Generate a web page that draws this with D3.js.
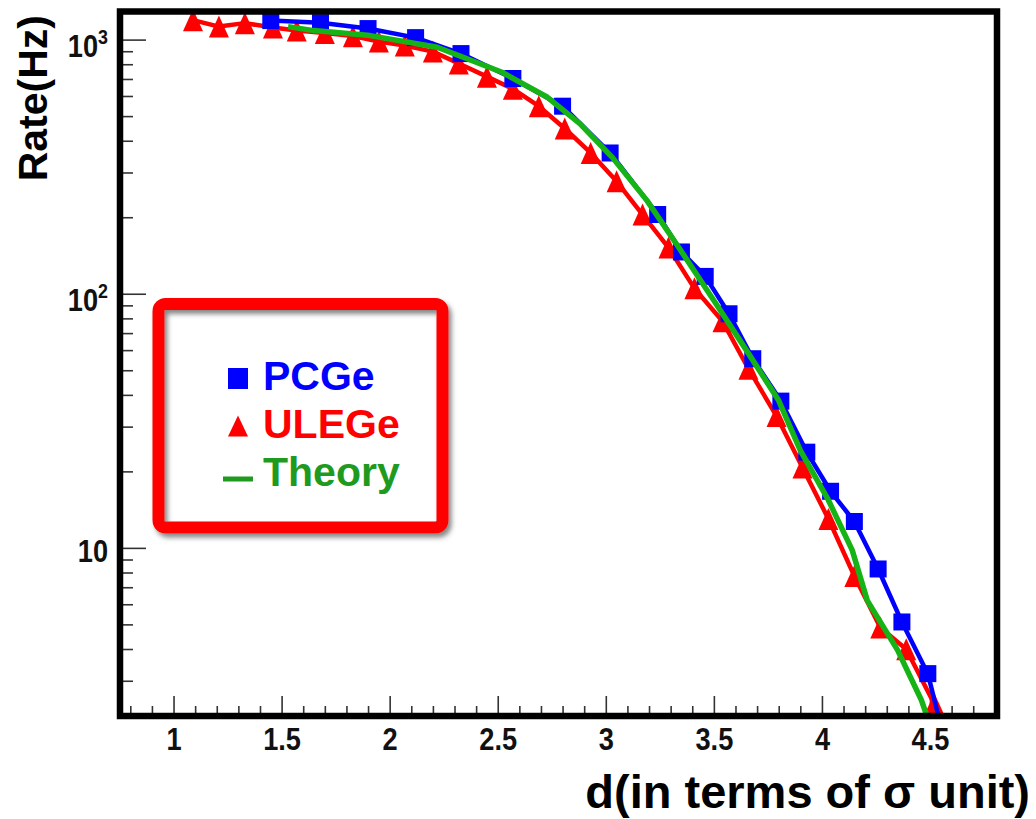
<!DOCTYPE html>
<html lang="en">
<head>
<meta charset="UTF-8">
<title>Rate vs d</title>
<script src="https://cdn.jsdelivr.net/npm/d3@7"></script>
<style>
  body { margin: 0; background: #fff; }
  text { font-family: "Liberation Sans", Arial, sans-serif; font-weight: bold; }
</style>
</head>
<body>
<svg id="chart" width="1036" height="819"></svg>
<script>
    /* global d3 */

    // PCGe - blue squares
    var pcgeD    = [1.45, 1.68, 1.90, 2.12, 2.33, 2.57, 2.80, 3.02, 3.24, 3.35, 3.46, 3.57, 3.68, 3.81, 3.93, 4.04, 4.15, 4.26, 4.37, 4.49, 4.60];
    var pcgeRate = [1188, 1166, 1105, 1018, 881, 703, 547, 358, 205, 146, 117, 83.4, 55.5, 37.8, 23.8, 16.7, 12.7, 8.26, 5.11, 3.20, 1.35];

    // ULEGe - red triangles
    var ulegeD    = [1.09, 1.21, 1.33, 1.46, 1.57, 1.70, 1.83, 1.95, 2.07, 2.20, 2.32, 2.45, 2.57, 2.69, 2.81, 2.93, 3.05, 3.17, 3.29, 3.41, 3.54, 3.66, 3.79, 3.91, 4.03, 4.15, 4.27, 4.39, 4.52, 4.64];
    var ulegeRate = [1193, 1125, 1161, 1115, 1085, 1061, 1032, 982, 947, 897, 805, 715, 640, 547, 447, 358, 277, 205, 152, 105, 78, 50.7, 33.0, 20.7, 13.0, 7.75, 4.86, 3.99, 2.43, 1.4];

    // theory curve - green
    var theoryD    = [1.53, 1.65, 1.91, 2.22, 2.52, 2.73, 2.88, 3.03, 3.19, 3.34, 3.50, 3.65, 3.80, 3.90, 4.03, 4.14, 4.21, 4.35, 4.46, 4.53];
    var theoryRate = [1125, 1085, 1037, 933, 744, 593, 467, 344, 233, 151, 94, 60, 38, 24.2, 15.4, 9.8, 6.2, 3.96, 2.52, 1.7];

    // axis ticks
    var xMajor  = [1, 1.5, 2, 2.5, 3, 3.5, 4, 4.5];
    var xLabels = ["1", "1.5", "2", "2.5", "3", "3.5", "4", "4.5"];
    var yMajor  = [10, 100, 1000];
    var yLabels = [["10", ""], ["10", "2"], ["10", "3"]];
    var yMinor  = [3, 4, 5, 6, 7, 8, 9, 20, 30, 40, 50, 60, 70, 80, 90, 200, 300, 400, 500, 600, 700, 800, 900];

    var legendNames = ["PCGe", "ULEGe", "Theory"];

    var xMinor = d3.range(8, 49).map(function (v) { return v / 10; })
        .filter(function (v) { return Math.abs(v * 2 - Math.round(v * 2)) > 1e-6; });

    var svg = d3.select("#chart"),
        pLeft = 120, pRight = 997, pTop = 11.5, pBottom = 716;

    var x = d3.scaleLinear().domain([0.75, 4.81]).range([119.5, 997]),
        y = d3.scaleLog().domain([2.18, 1290]).range([pBottom, pTop]);

    var defs = svg.append("defs");
    defs.append("clipPath").attr("id", "plotclip")
        .append("rect")
        .attr("x", pLeft).attr("y", pTop)
        .attr("width", pRight - pLeft).attr("height", pBottom - pTop);

    var shadow = defs.append("filter").attr("id", "shadow")
        .attr("x", "-10%").attr("y", "-10%").attr("width", "125%").attr("height", "125%");
    shadow.append("feDropShadow")
        .attr("dx", 3).attr("dy", 4).attr("stdDeviation", 2.5)
        .attr("flood-color", "#444").attr("flood-opacity", 0.65);

    // ticks
    var tickFont = 32, squeeze = 0.85;

    var xAx = svg.append("g").attr("transform", "translate(0," + pBottom + ")")
        .call(d3.axisBottom(x).tickValues(xMajor).tickSize(-20).tickPadding(11)
            .tickFormat(function (d, i) { return xLabels[i]; }));
    svg.append("g").attr("transform", "translate(0," + pBottom + ")")
        .call(d3.axisBottom(x).tickValues(xMinor).tickSize(-10).tickFormat(""));

    var yAx = svg.append("g").attr("transform", "translate(" + pLeft + ",0)")
        .call(d3.axisLeft(y).tickValues(yMajor).tickSize(-26)
            .tickFormat(function () { return ""; }));
    svg.append("g").attr("transform", "translate(" + pLeft + ",0)")
        .call(d3.axisLeft(y).tickValues(yMinor).tickSize(-13).tickFormat(""));

    svg.selectAll(".domain").remove();
    svg.selectAll(".tick line").attr("stroke", "#333").attr("stroke-width", 1.6);

    xAx.selectAll(".tick text")
        .style("font-size", tickFont + "px")
        .attr("fill", "#111")
        .attr("transform", "scale(" + squeeze + ",1)");

    yAx.selectAll(".tick text").each(function (d, i) {
        var t = d3.select(this);
        var lab = yLabels[i];
        t.attr("x", -12 / squeeze)
            .attr("dy", null)
            .attr("y", lab[1] ? 17 : 14)
            .attr("fill", "#111")
            .attr("text-anchor", "end")
            .attr("transform", "scale(" + squeeze + ",1)")
            .style("font-size", tickFont + "px");
        t.append("tspan").text(lab[0]);
        if (lab[1]) {
            t.append("tspan").attr("dy", -13).style("font-size", "21px").text(lab[1]);
        }
    });

    // data
    var plot = svg.append("g").attr("clip-path", "url(#plotclip)");

    var line = d3.line()
        .x(function (d) { return x(d[0]); })
        .y(function (d) { return y(d[1]); });

    var ulege = d3.zip(ulegeD, ulegeRate),
        pcge = d3.zip(pcgeD, pcgeRate),
        theory = d3.zip(theoryD, theoryRate);

    var triPath = "M0,-11L10,11L-10,11Z";

    plot.append("path").datum(ulege)
        .attr("d", line).attr("fill", "none")
        .attr("stroke", "#ff0000").attr("stroke-width", 4.5).attr("stroke-linejoin", "round");
    plot.selectAll(".tri").data(ulege).enter().append("path")
        .attr("class", "tri")
        .attr("d", triPath)
        .attr("transform", function (d) { return "translate(" + x(d[0]) + "," + y(d[1]) + ")"; })
        .attr("fill", "#ff0000");

    plot.append("path").datum(pcge)
        .attr("d", line).attr("fill", "none")
        .attr("stroke", "#0000ff").attr("stroke-width", 4.5).attr("stroke-linejoin", "round");
    plot.selectAll(".sq").data(pcge).enter().append("rect")
        .attr("class", "sq")
        .attr("x", function (d) { return x(d[0]) - 8.5; })
        .attr("y", function (d) { return y(d[1]) - 8.5; })
        .attr("width", 17).attr("height", 17)
        .attr("fill", "#0000ff");

    plot.append("path").datum(theory)
        .attr("d", line).attr("fill", "none")
        .attr("stroke", "#16b316").attr("stroke-width", 5.5).attr("stroke-linejoin", "round");

    // frame
    svg.append("rect")
        .attr("x", pLeft).attr("y", pTop)
        .attr("width", pRight - pLeft).attr("height", pBottom - pTop)
        .attr("fill", "none").attr("stroke", "#000").attr("stroke-width", 6.5);

    // axis titles
    svg.append("text")
        .attr("x", 1030).attr("y", 808)
        .attr("text-anchor", "end")
        .style("font-size", "47px")
        .attr("fill", "#000")
        .text("d(in terms of σ unit)");

    svg.append("text")
        .attr("transform", "translate(47,15) rotate(-90)")
        .attr("text-anchor", "end")
        .style("font-size", "41px")
        .attr("fill", "#000")
        .text("Rate(Hz)");

    // legend
    var lg = svg.append("g");
    lg.append("rect")
        .attr("x", 158.5).attr("y", 304)
        .attr("width", 284).attr("height", 223.5)
        .attr("rx", 7)
        .attr("fill", "none")
        .attr("stroke", "#ff0000").attr("stroke-width", 12)
        .attr("filter", "url(#shadow)");

    lg.append("rect")
        .attr("x", 228).attr("y", 368).attr("width", 20).attr("height", 21)
        .attr("fill", "#0000ff");
    lg.append("path")
        .attr("d", "M0,-10.5L10,10.5L-10,10.5Z")
        .attr("transform", "translate(238,426)")
        .attr("fill", "#ff0000");
    lg.append("line")
        .attr("x1", 223).attr("x2", 253).attr("y1", 479).attr("y2", 479)
        .attr("stroke", "#1e9a1e").attr("stroke-width", 5);

    var legColors = ["#0000ff", "#ff0000", "#1e9a1e"];
    lg.selectAll(".lt").data(legendNames).enter().append("text")
        .attr("class", "lt")
        .attr("x", 263)
        .attr("y", function (d, i) { return 390 + i * 48; })
        .style("font-size", "41px")
        .attr("fill", function (d, i) { return legColors[i]; })
        .text(function (d) { return d; });
</script>
</body>
</html>
